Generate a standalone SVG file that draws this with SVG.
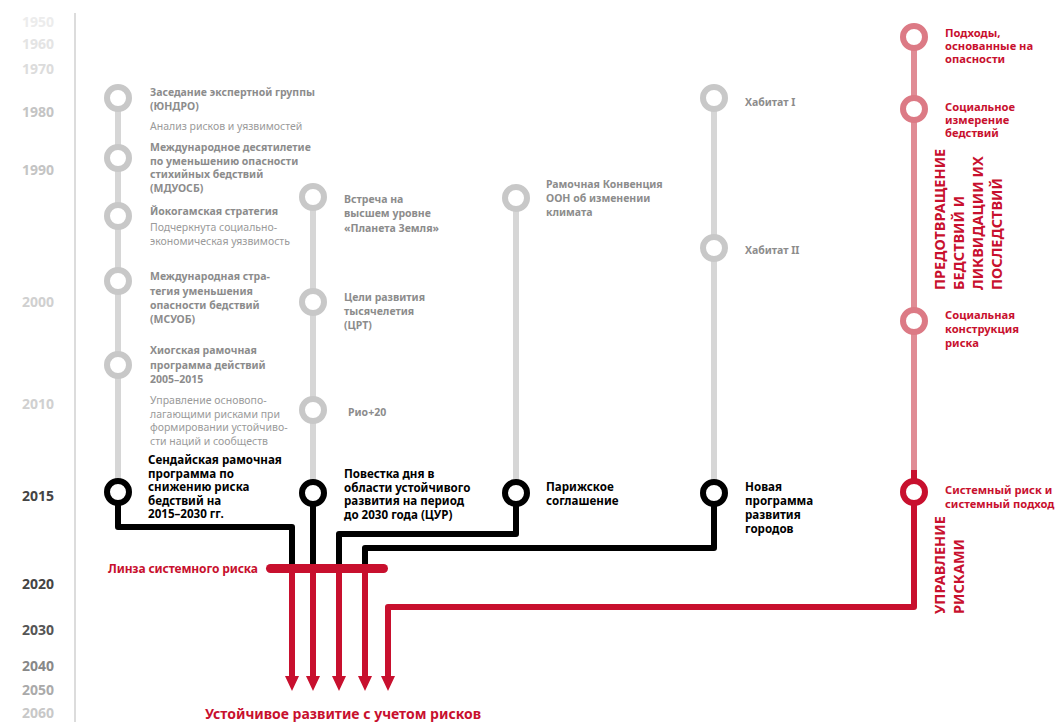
<svg xmlns="http://www.w3.org/2000/svg" width="1061" height="722" viewBox="0 0 1061 722">
<style>
text{font-family:"Noto Sans","Liberation Sans",sans-serif}
.yr{font-size:14px;text-anchor:end;font-weight:bold}
.gt{font-size:10.5px;font-weight:bold;fill:#8c8c8c}
.gd{font-size:10.5px;fill:#9a9a9a}
.bt{font-size:11.6px;font-weight:bold;fill:#000}
.rt{font-size:11.2px;font-weight:bold;fill:#c8102e}
.vt{font-size:14.5px;font-weight:bold;fill:#c8102e}
.gl{stroke:#d6d6d6;stroke-width:6;fill:none}
.gc{stroke:#c8c8c8;stroke-width:6;fill:#fff}
.bc{stroke:#000;stroke-width:6;fill:#fff}
.pc{stroke:#dc7a85;stroke-width:6;fill:#fff}
.rc{stroke:#c8102e;stroke-width:6;fill:#fff}
.bl{stroke:#000;stroke-width:6;fill:none;stroke-linejoin:round}
.rl{stroke:#c8102e;stroke-width:6;fill:none;stroke-linejoin:round}
.ah{fill:#c8102e}
</style>
<rect width="1061" height="722" fill="#fff"/>
<g id="axis">
<line x1="75" y1="13" x2="75" y2="722" stroke="#dcdcdc" stroke-width="2"/>
<text class="yr" x="54" y="27" fill="#ececec">1950</text>
<text class="yr" x="54" y="49" fill="#e4e4e4">1960</text>
<text class="yr" x="54" y="74" fill="#dcdcdc">1970</text>
<text class="yr" x="54" y="117" fill="#c4c4c4">1980</text>
<text class="yr" x="54" y="175" fill="#c4c4c4">1990</text>
<text class="yr" x="54" y="307" fill="#d0d0d0">2000</text>
<text class="yr" x="54" y="409" fill="#d0d0d0">2010</text>
<text class="yr" x="54" y="501" fill="#444">2015</text>
<text class="yr" x="54" y="589" fill="#444">2020</text>
<text class="yr" x="54" y="635" fill="#555">2030</text>
<text class="yr" x="54" y="671" fill="#888">2040</text>
<text class="yr" x="54" y="695" fill="#aaa">2050</text>
<text class="yr" x="54" y="718" fill="#c8c8c8">2060</text>
</g>
<g id="connectors">
<line class="gl" x1="118" y1="98" x2="118" y2="492"/>
<line class="gl" x1="313" y1="197" x2="313" y2="493"/>
<line class="gl" x1="516" y1="198" x2="516" y2="493"/>
<line class="gl" x1="714" y1="98" x2="714" y2="493"/>
<line x1="914" y1="37" x2="914" y2="472" stroke="#e08c95" stroke-width="6"/>
<path class="bl" d="M118,503 V527 H292 V568"/>
<path class="bl" d="M313,504 V568"/>
<path class="bl" d="M516,504 V534 H339 V568"/>
<path class="bl" d="M714,504 V548 H365 V568"/>
<path class="rl" d="M292,568 V678"/>
<path class="rl" d="M313,568 V678"/>
<path class="rl" d="M339,568 V678"/>
<path class="rl" d="M365,568 V678"/>
<path class="rl" d="M914,470 V607 H388 V678"/>
<polygon class="ah" points="285,676 299,676 292,691"/>
<polygon class="ah" points="306,676 320,676 313,691"/>
<polygon class="ah" points="332,676 346,676 339,691"/>
<polygon class="ah" points="358,676 372,676 365,691"/>
<polygon class="ah" points="381,676 395,676 388,691"/>
<rect x="266" y="564" width="122" height="9" rx="4.5" fill="#c8102e"/>
</g>
<g id="n-undro"><circle class="gc" cx="118" cy="98" r="11"/>
<text class="gt" x="150" y="96">Заседание экспертной группы</text>
<text class="gt" x="150" y="110">(ЮНДРО)</text>
<text class="gd" x="150" y="130">Анализ рисков и уязвимостей</text></g>
<g id="n-mduosb"><circle class="gc" cx="118" cy="158" r="11"/>
<text class="gt" x="150" y="151">Международное десятилетие</text>
<text class="gt" x="150" y="165">по уменьшению опасности</text>
<text class="gt" x="150" y="178">стихийных бедствий</text>
<text class="gt" x="150" y="192">(МДУОСБ)</text></g>
<g id="n-yokohama"><circle class="gc" cx="118" cy="216" r="11"/>
<text class="gt" x="150" y="215">Йокогамская стратегия</text>
<text class="gd" x="150" y="231">Подчеркнута социально-</text>
<text class="gd" x="150" y="245">экономическая уязвимость</text></g>
<g id="n-msuob"><circle class="gc" cx="118" cy="281" r="11"/>
<text class="gt" x="150" y="280">Международная стра-</text>
<text class="gt" x="150" y="295">тегия уменьшения</text>
<text class="gt" x="150" y="309">опасности бедствий</text>
<text class="gt" x="150" y="323">(МСУОБ)</text></g>
<g id="n-hyogo"><circle class="gc" cx="118" cy="365" r="11"/>
<text class="gt" x="150" y="354">Хиогская рамочная</text>
<text class="gt" x="150" y="369">программа действий</text>
<text class="gt" x="150" y="383">2005–2015</text>
<text class="gd" x="150" y="404">Управление основопо-</text>
<text class="gd" x="150" y="418">лагающими рисками при</text>
<text class="gd" x="150" y="431">формировании устойчиво-</text>
<text class="gd" x="150" y="445">сти наций и сообществ</text></g>
<g id="n-sendai"><circle class="bc" cx="118" cy="492" r="11"/>
<text class="bt" x="148" y="464">Сендайская рамочная</text>
<text class="bt" x="148" y="477.5">программа по</text>
<text class="bt" x="148" y="491">снижению риска</text>
<text class="bt" x="148" y="504.5">бедствий на</text>
<text class="bt" x="148" y="518">2015–2030 гг.</text></g>
<g id="n-earth"><circle class="gc" cx="313" cy="197" r="11"/>
<text class="gt" x="344" y="203">Встреча на</text>
<text class="gt" x="344" y="217">высшем уровне</text>
<text class="gt" x="344" y="232">«Планета Земля»</text></g>
<g id="n-mdg"><circle class="gc" cx="313" cy="302" r="11"/>
<text class="gt" x="344" y="301">Цели развития</text>
<text class="gt" x="344" y="315">тысячелетия</text>
<text class="gt" x="344" y="329">(ЦРТ)</text></g>
<g id="n-rio"><circle class="gc" cx="313" cy="410" r="11"/>
<text class="gt" x="348" y="416">Рио+20</text></g>
<g id="n-sdg"><circle class="bc" cx="313" cy="493" r="11"/>
<text class="bt" x="344" y="478">Повестка дня в</text>
<text class="bt" x="344" y="491.5">области устойчивого</text>
<text class="bt" x="344" y="505">развития на период</text>
<text class="bt" x="344" y="518.5">до 2030 года (ЦУР)</text></g>
<g id="n-unfccc"><circle class="gc" cx="516" cy="198" r="11"/>
<text class="gt" x="546" y="188">Рамочная Конвенция</text>
<text class="gt" x="546" y="202">ООН об изменении</text>
<text class="gt" x="546" y="216">климата</text></g>
<g id="n-paris"><circle class="bc" cx="516" cy="493" r="11"/>
<text class="bt" x="546" y="491">Парижское</text>
<text class="bt" x="546" y="505">соглашение</text></g>
<g id="n-habitat1"><circle class="gc" cx="714" cy="98" r="11"/>
<text class="gt" x="745" y="106">Хабитат I</text></g>
<g id="n-habitat2"><circle class="gc" cx="714" cy="248" r="11"/>
<text class="gt" x="745" y="254">Хабитат II</text></g>
<g id="n-urban"><circle class="bc" cx="714" cy="493" r="11"/>
<text class="bt" x="745" y="491">Новая</text>
<text class="bt" x="745" y="505">программа</text>
<text class="bt" x="745" y="519">развития</text>
<text class="bt" x="745" y="533">городов</text></g>
<g id="n-hazard"><circle class="pc" cx="914" cy="37" r="11"/>
<text class="rt" x="945" y="37">Подходы,</text>
<text class="rt" x="945" y="50">основанные на</text>
<text class="rt" x="945" y="63">опасности</text></g>
<g id="n-social"><circle class="pc" cx="914" cy="109" r="11"/>
<text class="rt" x="945" y="111">Социальное</text>
<text class="rt" x="945" y="124">измерение</text>
<text class="rt" x="945" y="137">бедствий</text></g>
<g id="n-construct"><circle class="pc" cx="914" cy="321" r="11"/>
<text class="rt" x="945" y="319">Социальная</text>
<text class="rt" x="945" y="333">конструкция</text>
<text class="rt" x="945" y="347">риска</text></g>
<g id="n-systemic"><circle class="rc" cx="914" cy="492" r="11"/>
<text class="rt" x="945" y="494">Системный риск и</text>
<text class="rt" x="945" y="508">системный подход</text></g>
<g id="label-prevention" transform="rotate(-90)">
<text class="vt" x="-290" y="945">ПРЕДОТВРАЩЕНИЕ</text>
<text class="vt" x="-290" y="964">БЕДСТВИЙ И</text>
<text class="vt" x="-290" y="983">ЛИКВИДАЦИИ ИХ</text>
<text class="vt" x="-290" y="1002">ПОСЛЕДСТВИЙ</text>
</g>
<g id="label-riskmgmt" transform="rotate(-90)">
<text class="vt" x="-614" y="945">УПРАВЛЕНИЕ</text>
<text class="vt" x="-614" y="964">РИСКАМИ</text>
</g>
<g id="label-lens"><text x="108" y="573" font-size="12" font-weight="bold" fill="#c8102e" textLength="150" lengthAdjust="spacing">Линза системного риска</text></g>
<g id="label-outcome"><text x="205" y="719" font-size="14" font-weight="bold" fill="#c8102e">Устойчивое развитие с учетом рисков</text></g>
</svg>
